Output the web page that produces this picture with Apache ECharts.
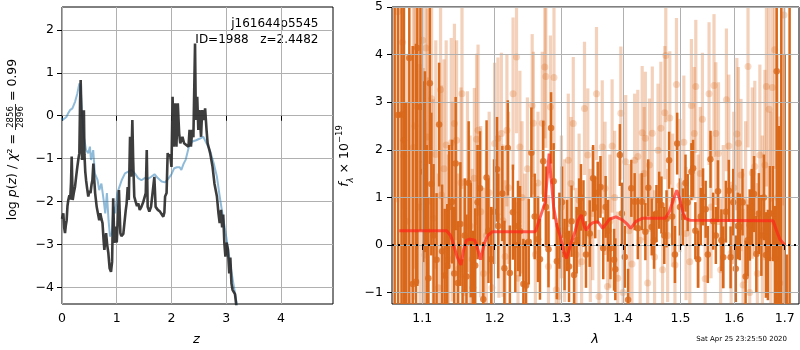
<!DOCTYPE html>
<html>
<head>
<meta charset="utf-8">
<script src="https://cdn.jsdelivr.net/npm/echarts@6/dist/echarts.min.js"></script>
<style>
html,body{margin:0;padding:0;background:#fff;}
#chart{width:800px;height:350px;}
</style>
</head>
<body>
<div id="chart"></div>
<script>
// ---- redshift probability panel ----
const zBlack = [0.000,0.024,0.040,0.055,0.070,0.085,0.100,0.115,0.135,0.150,0.165,0.177,0.195,0.215,0.238,0.260,0.280,0.300,0.317,0.330,0.341,0.352,0.366,0.380,0.392,0.400,0.410,0.425,0.440,0.460,0.480,0.500,0.520,0.540,0.555,0.573,0.590,0.605,0.634,0.660,0.680,0.700,0.720,0.740,0.760,0.774,0.790,0.805,0.825,0.847,0.870,0.895,0.915,0.935,0.955,0.975,1.000,1.020,1.040,1.066,1.085,1.100,1.120,1.140,1.164,1.180,1.200,1.220,1.243,1.260,1.285,1.300,1.320,1.345,1.370,1.395,1.420,1.450,1.486,1.510,1.530,1.548,1.565,1.595,1.626,1.660,1.687,1.710,1.750,1.790,1.820,1.850,1.870,1.883,1.910,1.930,1.950,1.975,2.000,2.020,2.040,2.066,2.090,2.115,2.140,2.160,2.200,2.230,2.270,2.310,2.330,2.355,2.380,2.400,2.430,2.445,2.470,2.490,2.510,2.540,2.560,2.590,2.614,2.640,2.660,2.706,2.750,2.785,2.830,2.858,2.880,2.905,2.925,2.945,2.965,2.985,3.005,3.030,3.055,3.075,3.095,3.115,3.140,3.160,3.200];
const logpBlack = [-2.40,-2.27,-2.60,-2.73,-2.55,-2.43,-2.10,-1.96,-1.85,-1.95,-1.55,-0.95,-1.96,-1.80,-1.65,-1.40,-1.19,-1.00,-0.87,0.30,0.83,0.20,-1.03,-0.80,-0.90,0.13,-0.90,-1.30,-1.50,-1.70,-1.88,-1.75,-1.80,-1.60,-1.50,-1.11,-1.50,-1.80,-2.12,-2.30,-2.43,-2.27,-2.40,-2.50,-2.90,-3.12,-2.90,-2.73,-3.00,-3.20,-3.55,-3.63,-3.40,-1.92,-2.96,-2.58,-2.95,-2.40,-1.73,-2.73,-2.80,-2.82,-2.75,-2.73,-2.20,-2.05,-1.66,-1.96,-0.49,-1.42,-0.10,-1.03,-1.88,-2.00,-2.10,-2.04,-2.19,-2.12,-2.00,-1.96,-1.80,-0.80,-2.12,-2.23,-2.12,-2.12,-1.42,-2.12,-2.19,-2.23,-2.19,-2.35,-2.25,-1.88,-1.80,-0.87,-0.95,-0.90,-1.19,0.44,-0.72,0.29,-0.72,0.29,-0.41,-0.64,-0.49,-0.64,-0.68,-0.72,-0.33,-0.72,-0.33,-0.50,1.68,-0.10,0.44,-0.33,0.13,-0.49,0.13,-0.10,0.17,-0.33,-0.64,-0.87,-1.19,-1.58,-1.88,-2.27,-2.50,-2.19,-2.60,-2.30,-2.95,-3.28,-2.95,-3.10,-3.67,-3.30,-3.90,-4.05,-4.09,-4.15,-4.60];
const zBlue = [0.000,0.010,0.040,0.080,0.110,0.146,0.190,0.240,0.280,0.317,0.340,0.366,0.400,0.440,0.480,0.510,0.530,0.570,0.600,0.650,0.680,0.720,0.760,0.790,0.820,0.850,0.877,0.910,0.940,0.970,1.010,1.050,1.090,1.150,1.210,1.270,1.330,1.390,1.450,1.510,1.570,1.630,1.690,1.750,1.820,1.880,1.940,2.000,2.050,2.100,2.150,2.180,2.220,2.260,2.320,2.380,2.450,2.520,2.580,2.640,2.700,2.770,2.830,2.890,2.950,3.010,3.070,3.130,3.190,3.220];
const logpBlue = [-0.05,-0.10,-0.14,-0.03,0.05,0.13,0.17,0.33,0.52,0.75,0.67,0.05,-0.49,-0.80,-0.87,-0.72,-1.03,-0.80,-1.34,-1.50,-1.73,-1.58,-1.96,-2.27,-1.80,-2.43,-2.81,-2.73,-2.12,-2.27,-1.80,-1.65,-1.50,-1.34,-1.30,-1.26,-1.34,-1.45,-1.50,-1.45,-1.47,-1.42,-1.36,-1.45,-1.53,-1.55,-1.47,-1.36,-1.22,-1.20,-1.20,-1.26,-1.12,-1.02,-0.71,-0.60,-0.57,-0.53,-0.49,-0.64,-0.80,-1.10,-1.42,-1.96,-2.43,-2.89,-3.43,-3.90,-4.36,-4.60];
const zTicks = [0, 1, 2, 3, 4];
const logpTicks = [-4, -3, -2, -1, 0, 1, 2];

// ---- 1D spectrum panel (wavelength in microns, flux in 1e-19) ----
const specWave = [1.0641,1.0685,1.0729,1.0759,1.0790,1.0830,1.0874,1.0917,1.0935,1.0975,1.1013,1.1035,1.1060,1.1080,1.1100,1.1120,1.1150,1.1190,1.1225,1.1265,1.1300,1.1335,1.1360,1.1400,1.1430,1.1450,1.1480,1.1515,1.1545,1.1575,1.1600,1.1630,1.1660,1.1690,1.1722,1.1755,1.1790,1.1836,1.1883,1.1910,1.1950,1.1990,1.2033,1.2050,1.2110,1.2140,1.2190,1.2220,1.2265,1.2300,1.2340,1.2370,1.2420,1.2460,1.2500,1.2540,1.2590,1.2640,1.2670,1.2720,1.2760,1.2800,1.2840,1.2880,1.2930,1.2970,1.3010,1.3050,1.3090,1.3120,1.3160,1.3200,1.3240,1.3280,1.3310,1.3350,1.3390,1.3450,1.3505,1.3540,1.3580,1.3625,1.3670,1.3710,1.3750,1.3790,1.3850,1.3870,1.3946,1.3980,1.4029,1.4085,1.4140,1.4196,1.4250,1.4320,1.4380,1.4430,1.4490,1.4530,1.4573,1.4620,1.4660,1.4710,1.4750,1.4796,1.4850,1.4900,1.4940,1.4990,1.5042,1.5090,1.5130,1.5198,1.5228,1.5270,1.5320,1.5370,1.5412,1.5460,1.5500,1.5550,1.5600,1.5650,1.5690,1.5755,1.5790,1.5840,1.5896,1.5930,1.5980,1.6030,1.6070,1.6106,1.6160,1.6220,1.6260,1.6300,1.6340,1.6385,1.6430,1.6480,1.6530,1.6580,1.6620,1.6660,1.6700,1.6763,1.6800,1.6837,1.6880,1.6930,1.7000,1.7040,1.7100];
const specFlux = [7.00,2.73,2.74,2.20,-3.00,3.93,-0.82,-0.77,4.14,2.90,1.54,1.75,0.30,-0.70,3.40,1.28,0.20,-0.31,2.53,-0.13,-0.64,-0.44,0.80,0.91,-0.60,1.71,-0.80,0.44,-1.60,0.20,-0.66,1.30,0.10,-0.90,-0.43,0.90,1.19,-1.14,1.42,0.30,-0.30,0.70,1.59,0.40,1.08,-0.49,2.04,-0.59,0.69,0.00,0.40,0.29,-0.82,-0.85,0.07,1.94,0.60,0.12,-0.30,1.76,0.80,-0.09,2.46,1.34,-0.34,0.30,0.90,-0.20,0.20,-0.45,0.50,-0.63,0.10,0.70,1.00,0.66,-0.20,0.24,1.40,0.79,1.10,1.22,-0.07,0.80,0.30,-0.07,-0.31,-0.51,1.89,0.66,-0.25,-1.15,1.19,0.91,0.35,0.91,0.28,1.20,0.38,0.10,0.66,0.94,0.84,0.20,0.55,1.78,0.60,-0.20,2.13,0.80,0.59,1.30,0.89,1.54,1.61,0.30,-0.30,0.60,1.01,0.75,-0.20,1.80,0.50,0.20,1.13,0.10,-0.26,0.70,1.14,-0.26,0.90,-0.50,0.40,0.38,0.90,-0.66,0.10,0.42,0.80,1.07,-0.19,0.66,0.20,1.00,-0.21,-0.21,0.66,0.66,-0.28,3.65,-1.50,6.00,-2.00,-2.40,8.00];
const specErr = [9.0,8.0,8.0,7.0,6.0,6.0,5.0,5.0,5.0,2.6,
  1.9,1.9,1.8,1.7,1.7,1.5,1.5,1.4,1.3,1.4,
  1.4,1.3,1.3,1.3,1.4,1.4,1.3,1.3,1.3,1.2,
  1.3,1.3,1.2,1.2,1.2,1.2,1.2,1.2,1.2,1.1,
  1.1,1.1,1.1,1.1,1.0,1.0,1.0,1.0,1.0,1.0,
  0.95,0.95,0.95,0.95,0.9,0.95,0.9,0.9,0.85,0.85,
  0.85,0.8,0.75,0.8,0.8,0.8,0.75,0.75,0.75,0.75,
  0.75,0.7,0.7,0.7,0.7,0.7,0.7,0.7,0.7,0.65,
  0.65,0.65,0.65,0.65,0.65,0.65,0.65,0.65,0.65,0.65,
  0.65,0.65,0.6,0.6,0.65,0.6,0.6,0.6,0.6,0.6,
  0.6,0.6,0.6,0.6,0.6,0.6,0.6,0.6,0.65,0.6,
  0.6,0.6,0.6,0.6,0.6,0.6,0.6,0.6,0.6,0.6,
  0.6,0.6,0.6,0.6,0.65,0.65,0.65,0.65,0.65,0.65,
  0.7,0.7,0.7,0.7,0.7,0.75,0.75,0.75,0.8,0.8,
  0.8,0.85,0.85,0.9,0.9,0.95,1.0,1.0,1.1,5.0,
  4.0,8.0,6.0,2.2,10.0];

const spec2Wave = [1.0680,1.0742,1.0759,1.0800,1.0882,1.0904,1.0926,1.0970,1.1005,1.1013,1.1035,1.1049,1.1066,1.1080,1.1124,1.1145,1.1180,1.1215,1.1244,1.1257,1.1290,1.1320,1.1350,1.1389,1.1402,1.1433,1.1463,1.1490,1.1523,1.1537,1.1570,1.1613,1.1650,1.1680,1.1710,1.1741,1.1762,1.1800,1.1840,1.1880,1.1920,1.1960,1.1998,1.2046,1.2060,1.2096,1.2120,1.2150,1.2177,1.2200,1.2267,1.2318,1.2340,1.2368,1.2400,1.2440,1.2480,1.2552,1.2570,1.2600,1.2640,1.2705,1.2744,1.2760,1.2800,1.2830,1.2885,1.2920,1.2960,1.3000,1.3050,1.3108,1.3150,1.3187,1.3230,1.3280,1.3320,1.3366,1.3419,1.3460,1.3500,1.3560,1.3600,1.3654,1.3700,1.3740,1.3780,1.3817,1.3860,1.3910,1.3962,1.4000,1.4045,1.4100,1.4150,1.4196,1.4250,1.4290,1.4325,1.4360,1.4380,1.4420,1.4450,1.4500,1.4540,1.4600,1.4650,1.4680,1.4720,1.4737,1.4770,1.4808,1.4860,1.4900,1.4927,1.4990,1.5060,1.5100,1.5168,1.5198,1.5250,1.5278,1.5320,1.5360,1.5400,1.5450,1.5523,1.5560,1.5616,1.5650,1.5700,1.5740,1.5790,1.5850,1.5896,1.5940,1.5990,1.6050,1.6080,1.6130,1.6170,1.6220,1.6267,1.6300,1.6350,1.6400,1.6450,1.6500,1.6550,1.6600,1.6630,1.6683,1.6720,1.6750,1.6797,1.6850,1.6900,1.6985];
const spec2Flux = [4.90,4.26,1.87,0.50,2.05,2.50,2.91,0.80,4.30,0.92,-0.21,4.14,2.27,0.92,3.07,0.56,1.90,-0.90,3.26,1.05,1.60,2.10,-0.30,2.15,0.91,2.55,2.20,-0.50,1.31,3.18,-1.00,1.33,0.40,-0.30,1.40,2.22,2.41,0.70,-0.60,0.20,1.10,-0.90,2.13,2.24,0.59,2.34,0.51,-0.24,2.41,1.20,3.18,3.95,-0.70,2.06,1.00,0.00,1.60,2.93,2.56,-0.20,1.30,2.56,3.74,3.54,-0.45,2.90,3.52,-0.94,-1.08,0.80,0.30,1.78,1.29,2.55,-0.20,0.94,-0.35,2.87,1.89,0.20,0.66,3.18,-1.08,2.06,1.19,-0.87,0.50,2.08,1.00,-0.70,2.77,-1.00,1.75,0.30,-0.40,1.78,1.86,0.10,2.36,1.50,2.24,-0.80,1.68,2.35,-0.25,1.99,2.45,-0.52,2.78,3.98,0.20,2.67,0.94,-0.42,3.37,1.25,2.16,0.24,-0.35,2.93,2.34,3.33,0.50,1.50,2.64,-0.71,3.18,0.80,3.35,2.34,1.92,-0.52,0.60,3.05,2.08,-0.17,1.20,2.33,2.14,1.47,-0.84,0.90,3.75,-1.00,1.51,1.65,-0.60,1.89,0.30,1.68,3.33,2.85,0.50,3.31,4.10,1.00,-0.80,4.83];
const spec2Err = [4.0,3.5,3.5,3.5,3.2,3.0,3.0,3.0,2.8,2.8,
  2.8,2.7,2.7,2.6,2.5,2.5,2.4,2.4,2.3,2.3,
  2.3,2.2,2.2,2.2,2.1,2.1,2.1,2.0,2.0,2.0,
  2.0,1.9,1.9,1.9,1.9,1.8,1.8,1.8,1.8,1.8,
  1.7,1.7,1.7,1.7,1.7,1.7,1.6,1.6,1.6,1.6,
  1.6,1.6,1.6,1.6,1.6,1.5,1.5,1.5,1.5,1.5,
  1.5,1.5,1.5,1.5,1.5,1.5,1.5,1.5,1.5,1.5,
  1.5,1.4,1.4,1.4,1.4,1.4,1.4,1.4,1.4,1.4,
  1.4,1.4,1.4,1.4,1.4,1.4,1.4,1.4,1.4,1.4,
  1.4,1.4,1.4,1.4,1.4,1.4,1.4,1.4,1.4,1.4,
  1.4,1.4,1.4,1.4,1.4,1.4,1.4,1.4,1.4,1.4,
  1.4,1.4,1.4,1.4,1.4,1.4,1.4,1.4,1.4,1.4,
  1.4,1.4,1.4,1.4,1.4,1.4,1.5,1.5,1.5,1.5,
  1.5,1.5,1.5,1.5,1.5,1.5,1.6,1.6,1.6,1.6,
  1.6,1.7,1.7,1.7,1.8,1.8,1.9,1.9,2.0,2.0,
  2.1,2.2,2.3,2.4,2.5,3.0,3.5,4.0];

const modelWave = [1.0700,1.1327,1.1380,1.1417,1.1470,1.1523,1.1560,1.1600,1.1650,1.1717,1.1760,1.1797,1.1850,1.1900,1.1968,1.2601,1.2675,1.2750,1.2790,1.2810,1.2840,1.2880,1.2930,1.2979,1.3040,1.3081,1.3159,1.3220,1.3263,1.3315,1.3360,1.3395,1.3450,1.3501,1.3581,1.3662,1.3720,1.3770,1.3880,1.3989,1.4060,1.4129,1.4213,1.4325,1.4728,1.4800,1.4870,1.4933,1.4992,1.5040,1.5082,1.5172,1.6765,1.6831,1.6900,1.7000];
const modelFlux = [0.30,0.30,0.20,0.03,-0.25,-0.42,-0.10,0.10,0.12,0.10,-0.10,-0.31,0.03,0.20,0.28,0.28,0.59,0.90,1.60,1.92,1.40,0.80,0.40,0.20,-0.15,-0.28,0.07,0.30,0.52,0.63,0.40,0.31,0.42,0.47,0.49,0.35,0.45,0.54,0.59,0.53,0.45,0.35,0.49,0.56,0.56,0.70,0.95,1.15,0.94,0.70,0.56,0.52,0.51,0.31,0.12,0.00];
const waveTicks = [1.1, 1.2, 1.3, 1.4, 1.5, 1.6, 1.7];
const fluxTicks = [-1, 0, 1, 2, 3, 4, 5];

const FONT = 'DejaVu Sans';
const DARK = 'rgb(217,104,26)';
const LIGHT = 'rgba(217,104,26,0.3)';
const minus = v => (v < 0 ? '\u2212' + Math.abs(v) : String(v));

function zip(a, b) { return a.map((v, i) => [v, b[i]]); }
function errRows(w, f, e) { return w.map((v, i) => [v, f[i] - e[i], f[i] + e[i]]); }

function errBar(color, width) {
  return function (params, api) {
    const a = api.coord([api.value(0), api.value(1)]);
    const b = api.coord([api.value(0), api.value(2)]);
    return { type: 'line', shape: { x1: a[0], y1: a[1], x2: b[0], y2: b[1] },
             style: { stroke: color, lineWidth: width } };
  };
}

const tickStyle = (vals) => ({ show: true, customValues: vals, length: 5, inside: false,
  lineStyle: { color: '#000', width: 1 } });
const labelStyle = (vals, fmt, margin) => ({ customValues: vals, color: '#000', fontFamily: FONT,
  fontSize: 12.5, margin: margin, formatter: fmt });
const gridLine = { show: true, lineStyle: { color: '#b0b0b0', width: 1 } };

const chart = echarts.init(document.getElementById('chart'), null, { renderer: 'canvas' });
chart.setOption({
  animation: false,
  backgroundColor: '#fff',
  grid: [
    { left: 62, top: 7, width: 271, height: 297, show: true, borderColor: '#000', borderWidth: 1, backgroundColor: 'transparent' },
    { left: 392, top: 7, width: 407, height: 297, show: true, borderColor: '#000', borderWidth: 1, backgroundColor: 'transparent' }
  ],
  xAxis: [
    { gridIndex: 0, type: 'value', min: 0, max: 4.95, axisLine: { show: false },
      axisTick: tickStyle(zTicks), axisLabel: labelStyle(zTicks, v => minus(v), 8), splitLine: gridLine },
    { gridIndex: 1, type: 'log', min: 1.0607, max: 1.7294, z: 3, axisLine: { show: false },
      axisTick: tickStyle(waveTicks), axisLabel: labelStyle(waveTicks, v => Number(v).toFixed(1), 8),
      splitLine: gridLine, minorTick: { show: false }, minorSplitLine: { show: false } }
  ],
  yAxis: [
    { gridIndex: 0, type: 'value', min: -4.38, max: 2.53, axisLine: { show: false },
      axisTick: tickStyle(logpTicks), axisLabel: labelStyle(logpTicks, v => minus(v), 8), splitLine: gridLine },
    { gridIndex: 1, type: 'value', min: -1.24, max: 5, z: 3, axisLine: { show: false },
      axisTick: tickStyle(fluxTicks), axisLabel: labelStyle(fluxTicks, v => minus(v), 9), splitLine: gridLine }
  ],
  series: [
    { type: 'line', xAxisIndex: 0, yAxisIndex: 0, data: zip(zBlue, logpBlue), showSymbol: false, clip: true,
      lineStyle: { color: 'rgba(31,119,180,0.5)', width: 2 }, z: 2 },
    { type: 'line', xAxisIndex: 0, yAxisIndex: 0, data: zip(zBlack, logpBlack), showSymbol: false, clip: true,
      lineStyle: { color: 'rgba(40,40,40,0.9)', width: 2.6 }, z: 3 },

    { type: 'custom', xAxisIndex: 1, yAxisIndex: 1, data: errRows(spec2Wave, spec2Flux, spec2Err),
      encode: { x: 0, y: [1, 2] }, renderItem: errBar(LIGHT, 3.2), clip: true, z: 1 },
    { type: 'scatter', xAxisIndex: 1, yAxisIndex: 1, data: zip(spec2Wave, spec2Flux), symbolSize: 7,
      itemStyle: { color: LIGHT }, clip: true, z: 1 },
    { type: 'custom', xAxisIndex: 1, yAxisIndex: 1, data: errRows(specWave, specFlux, specErr),
      encode: { x: 0, y: [1, 2] }, renderItem: errBar(DARK, 2.5), clip: true, z: 2 },
    { type: 'scatter', xAxisIndex: 1, yAxisIndex: 1, data: zip(specWave, specFlux), symbolSize: 6.5,
      itemStyle: { color: DARK }, clip: true, z: 2 },
    { type: 'line', xAxisIndex: 1, yAxisIndex: 1, data: zip(modelWave, modelFlux), showSymbol: false, clip: true,
      lineStyle: { color: 'rgba(255,35,25,0.7)', width: 3 }, z: 4,
      markLine: { silent: true, symbol: 'none', label: { show: false },
        lineStyle: { color: '#000', type: [2, 4], width: 2 }, data: [{ yAxis: 0 }] } }
  ],
  graphic: [
    { type: 'text', x: 318.5, y: 24, style: { text: 'j161644p5545', fontFamily: FONT, fontSize: 12,
      fill: '#000', align: 'right', verticalAlign: 'middle' } },
    { type: 'text', x: 318.5, y: 40, style: { text: 'ID=1988   z=2.4482', fontFamily: FONT, fontSize: 12,
      fill: '#000', align: 'right', verticalAlign: 'middle' } },
    { type: 'text', x: 196.5, y: 340, style: { text: 'z', fontFamily: FONT, fontSize: 13, fontStyle: 'italic',
      fill: '#000', align: 'center', verticalAlign: 'middle' } },
    { type: 'text', x: 595, y: 340, style: { text: 'λ', fontFamily: FONT, fontSize: 13, fontStyle: 'italic',
      fill: '#000', align: 'center', verticalAlign: 'middle' } },
    { type: 'text', x: 787, y: 339, style: { text: 'Sat Apr 25 23:25:50 2020', fontFamily: FONT, fontSize: 7,
      fill: '#000', align: 'right', verticalAlign: 'middle' } },
    // left axis title with stacked chi-square fraction
    { type: 'group', x: 15.5, y: 243, rotation: Math.PI / 2, children: [
      { type: 'text', x: 109, y: -2.5, style: {
          text: '{r|log }{i|p}{r|(}{i|z}{r|) / }{i|χ}{r|² =}',
          rich: { r: { fontFamily: FONT, fontSize: 12.5, fill: '#000' },
                  i: { fontFamily: FONT, fontSize: 12.5, fontStyle: 'italic', fill: '#000' } },
          align: 'right', verticalAlign: 'middle' } },
      { type: 'text', x: 126, y: -4.4, style: { text: '2856', fontFamily: FONT, fontSize: 8.5, fill: '#000',
          align: 'center', verticalAlign: 'middle' } },
      { type: 'line', shape: { x1: 113, y1: 0, x2: 139, y2: 0 }, style: { stroke: '#000', lineWidth: 0.8 } },
      { type: 'text', x: 126, y: 4.8, style: { text: '2896', fontFamily: FONT, fontSize: 8.5, fill: '#000',
          align: 'center', verticalAlign: 'middle' } },
      { type: 'text', x: 142, y: -2.5, style: { text: '= 0.99', fontFamily: FONT, fontSize: 12.5, fill: '#000',
          align: 'left', verticalAlign: 'middle' } }
    ] },
    // right axis title
    { type: 'text', x: 345, y: 156, rotation: Math.PI / 2, style: {
        text: '{i|f}{sub|λ}{r| × 10}{sup|\u221219}',
        rich: { i: { fontFamily: FONT, fontSize: 12.5, fontStyle: 'italic', fill: '#000', lineHeight: 20 },
                sub: { fontFamily: FONT, fontSize: 8.5, fontStyle: 'italic', fill: '#000', verticalAlign: 'bottom' },
                r: { fontFamily: FONT, fontSize: 12.5, fill: '#000', lineHeight: 20 },
                sup: { fontFamily: FONT, fontSize: 8.5, fill: '#000', verticalAlign: 'top' } },
        align: 'center', verticalAlign: 'middle' } }
  ]
});
</script>
</body>
</html>
